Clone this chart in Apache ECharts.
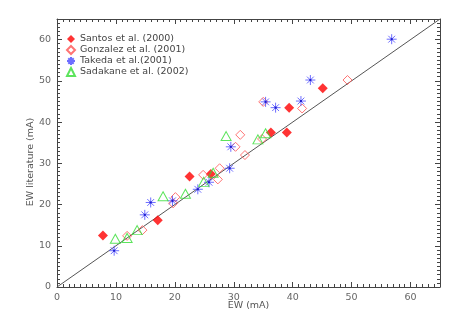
<!DOCTYPE html>
<html>
<head>
<meta charset="utf-8">
<script src="https://cdn.jsdelivr.net/npm/echarts@6/dist/echarts.min.js"></script>
<style>
  html, body { margin: 0; padding: 0; background: #fff; }
  #chart { width: 458px; height: 327px; }
</style>
</head>
<body>
<div id="chart"></div>
<script>
// EW values (mA): [this work, literature]
const santos = [
  [7.8, 12.5], [17.1, 16.2], [22.5, 26.8], [26.1, 27.4],
  [36.3, 37.5], [39.0, 37.5], [39.4, 43.5], [45.1, 48.2]
];
const gonzalez = [
  [11.9, 12.4], [14.5, 13.8], [19.7, 20.3], [20.1, 21.8], [24.8, 27.2],
  [27.3, 26.1], [27.6, 28.8], [30.3, 34.0], [31.1, 36.9], [31.9, 32.0],
  [34.8, 35.9], [35.0, 44.9], [41.6, 43.3], [49.3, 50.2]
];
const takeda = [
  [9.7, 8.8], [14.9, 17.5], [15.9, 20.5], [19.6, 20.9], [23.9, 23.7],
  [25.8, 25.4], [29.3, 28.8], [29.5, 34.0], [35.4, 44.9], [37.1, 43.5],
  [41.4, 45.1], [43.0, 50.2], [56.8, 60.1]
];
const sadakane = [
  [9.9, 11.7], [11.9, 11.9], [13.6, 13.8], [18.0, 22.0], [21.8, 22.6],
  [24.9, 25.5], [26.5, 27.7], [28.7, 36.6], [34.1, 35.8], [35.4, 37.3]
];
const oneToOne = [[0, 0], [65, 65]];
const axisMin = 0;
const axisMax = 65;
const tickStep = 10;

const font = "DejaVu Sans";
const asterisk = "path://M0,5L10,5M5,0L5,10M1.6,1.6L8.4,8.4M1.6,8.4L8.4,1.6";

const chart = echarts.init(document.getElementById("chart"));

const frameAxis = (show) => ({
  type: "value",
  min: axisMin,
  max: axisMax,
  interval: tickStep,
  splitLine: { show: false },
  axisLine: { show: true, onZero: false, lineStyle: { color: "#444", width: 1 } },
  axisTick: { show: true, inside: true, length: 5, lineStyle: { color: "#444" } },
  minorTick: { show: true, splitNumber: 10, length: 3, lineStyle: { color: "#444", width: 1 } },
  axisLabel: {
    show,
    showMaxLabel: false,
    color: "#666",
    fontFamily: font,
    fontSize: 9.5,
    margin: 6,
    formatter: (v) => (v > axisMax - 1 ? "" : String(v)),
  },
});

chart.setOption({
  animation: false,
  grid: { left: 57, right: 18, top: 19, bottom: 40 },
  legend: {
    orient: "vertical",
    left: 61,
    top: 29,
    itemGap: 1,
    itemWidth: 8,
    itemHeight: 8,
    data: ["Santos et al. (2000)", "Gonzalez et al. (2001)", "Takeda et al.(2001)", "Sadakane et al. (2002)"],
    textStyle: { color: "#444", fontFamily: font, fontSize: 9.5, lineHeight: 10, padding: [0, 0, 0, 0] },
  },
  xAxis: [
    {
      ...frameAxis(true),
      position: "bottom",
      name: "EW (mA)",
      nameLocation: "middle",
      nameGap: 14,
      nameMoveOverlap: false,
      nameTextStyle: { color: "#555", fontFamily: font, fontSize: 9.5 },
    },
    { ...frameAxis(false), position: "top" },
  ],
  yAxis: [
    {
      ...frameAxis(true),
      position: "left",
      name: "EW literature (mA)",
      nameLocation: "middle",
      nameGap: 21,
      nameMoveOverlap: false,
      nameTextStyle: { color: "#555", fontFamily: font, fontSize: 9.5, padding: [0, 18, 0, 0] },
    },
    { ...frameAxis(false), position: "right" },
  ],
  series: [
    {
      type: "line",
      data: oneToOne,
      showSymbol: false,
      symbol: "none",
      lineStyle: { color: "#555", width: 1 },
      silent: true,
      z: 1,
    },
    {
      name: "Santos et al. (2000)",
      type: "scatter",
      data: santos,
      symbol: "diamond",
      symbolSize: 10,
      itemStyle: { color: "#ff0000" },
      z: 3,
    },
    {
      name: "Gonzalez et al. (2001)",
      type: "scatter",
      data: gonzalez,
      symbol: "diamond",
      symbolSize: 9,
      itemStyle: { color: "rgba(0,0,0,0)", borderColor: "#ff5050", borderWidth: 1 },
      z: 3,
    },
    {
      name: "Takeda et al.(2001)",
      type: "scatter",
      data: takeda,
      symbol: asterisk,
      symbolSize: 10,
      itemStyle: { color: "rgba(0,0,0,0)", borderColor: "#4a4aff", borderWidth: 1 },
      z: 3,
    },
    {
      type: "scatter",
      data: takeda,
      symbol: "rect",
      symbolSize: 2,
      itemStyle: { color: "#1010c0" },
      silent: true,
      z: 4,
    },
    {
      name: "Sadakane et al. (2002)",
      type: "scatter",
      data: sadakane,
      symbol: "triangle",
      symbolSize: [10, 9],
      itemStyle: { color: "rgba(0,0,0,0)", borderColor: "#33dd33", borderWidth: 1 },
      z: 3,
    },
  ],
});
</script>
</body>
</html>
